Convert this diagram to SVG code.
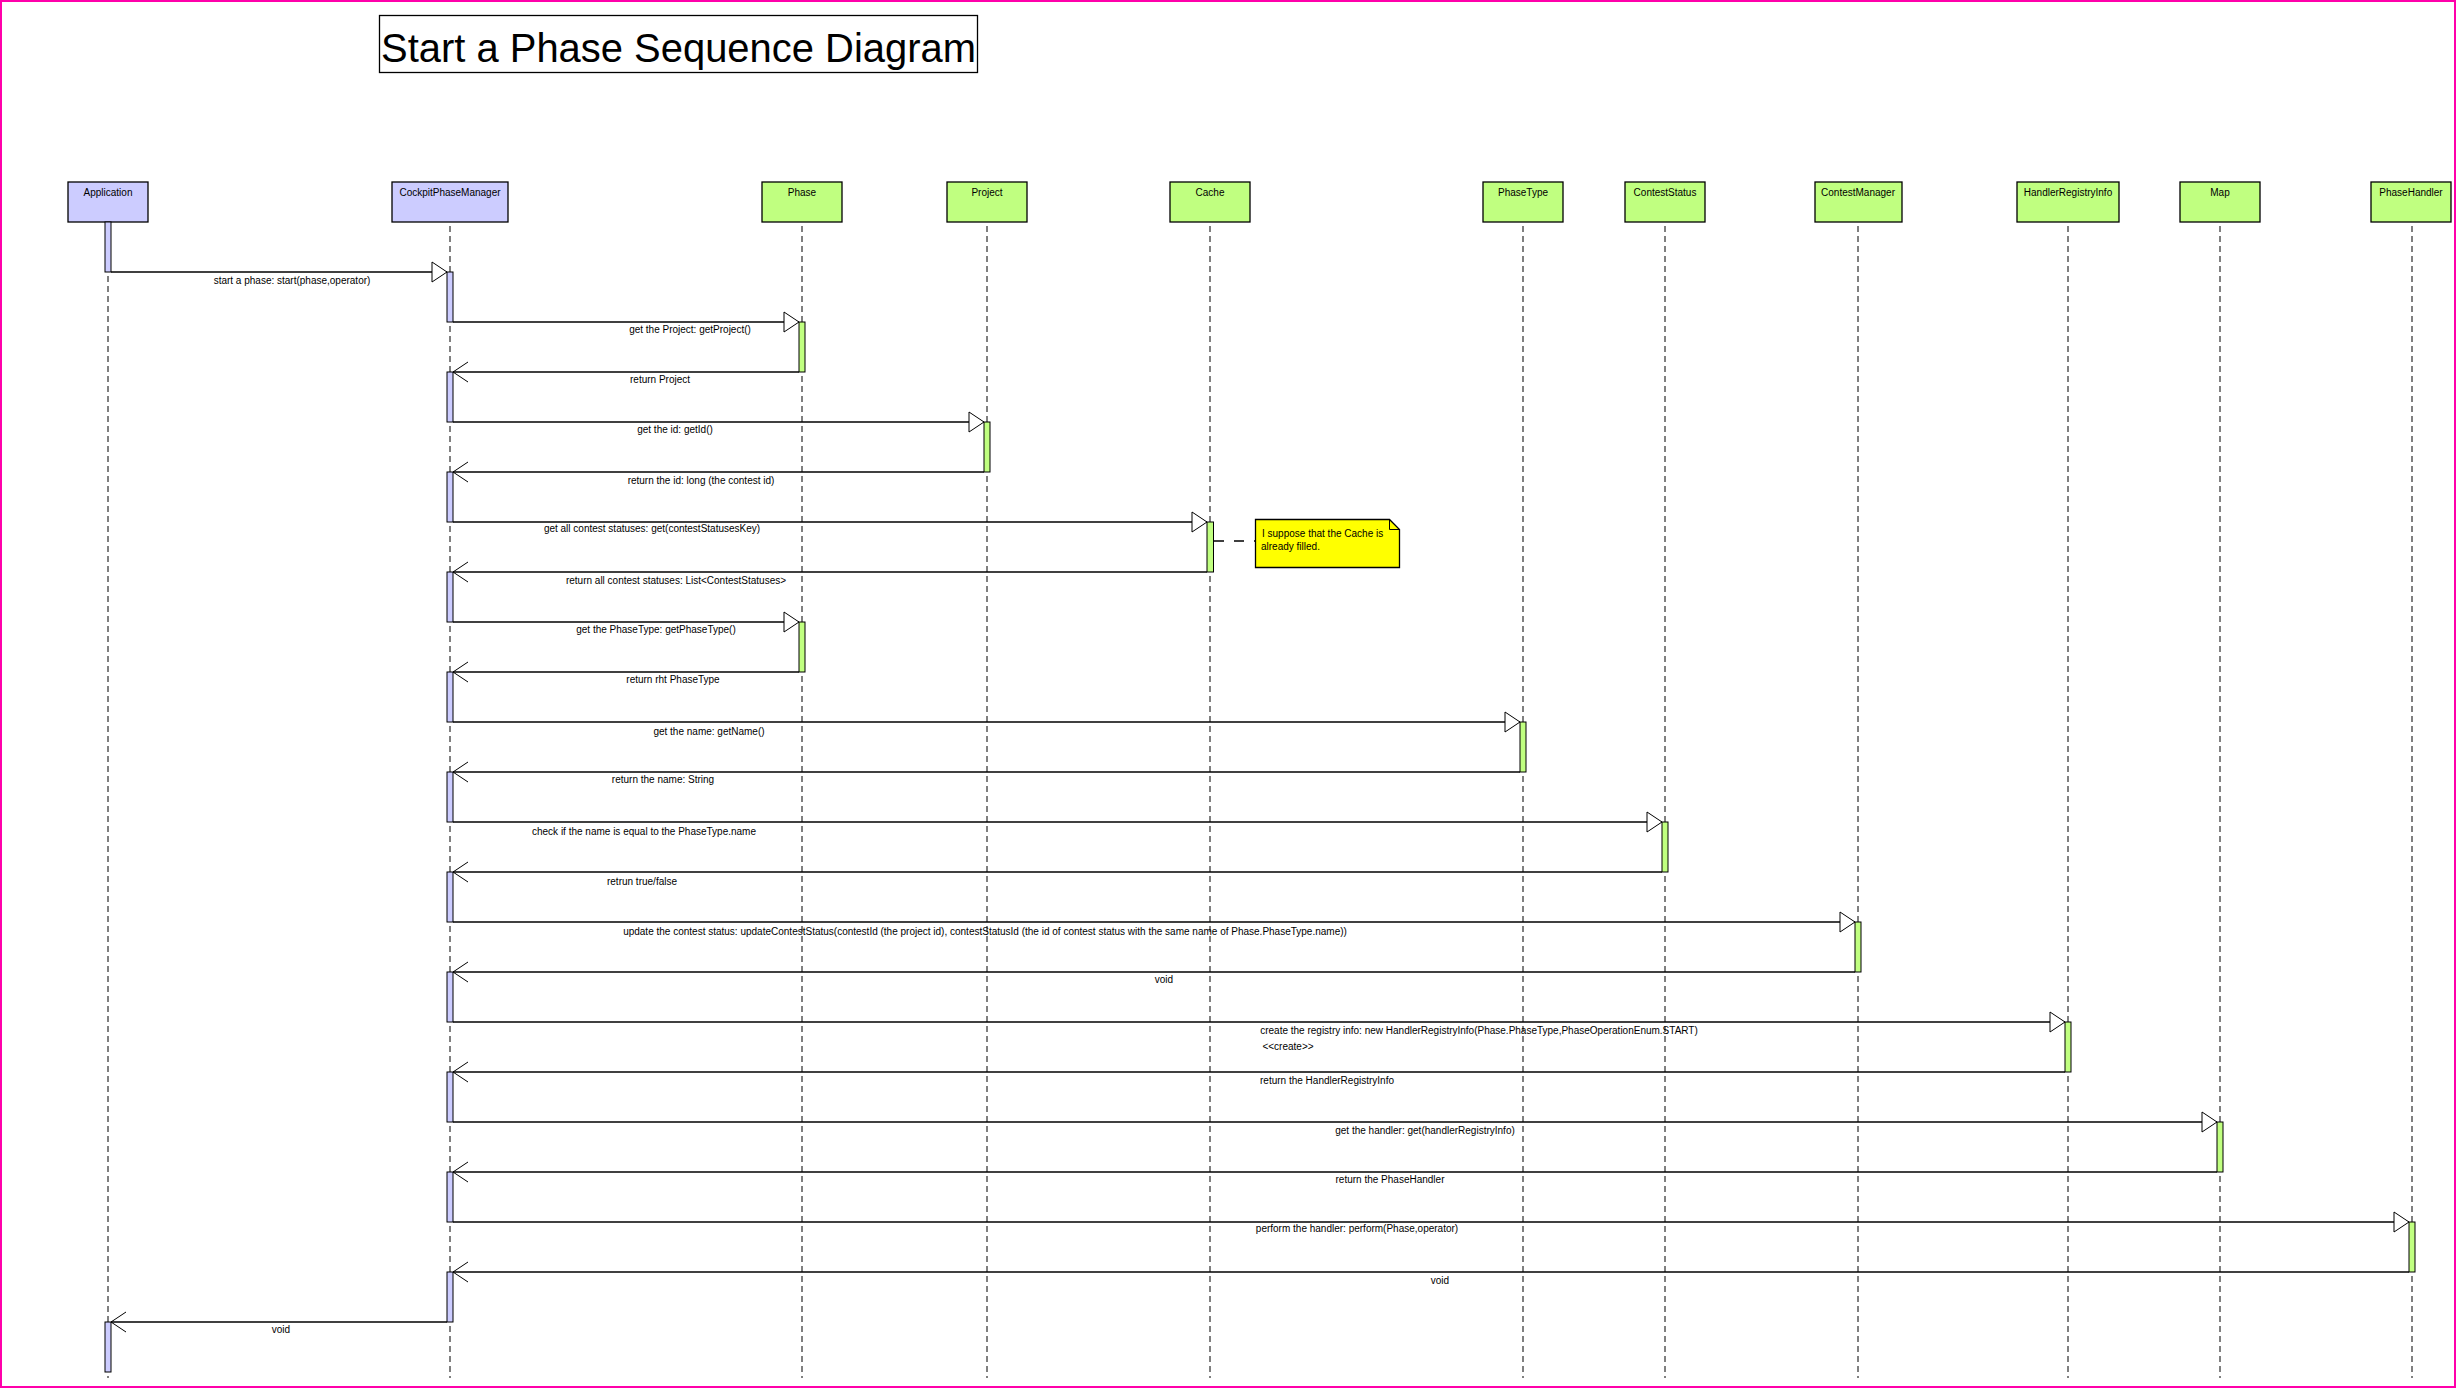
<svg xmlns="http://www.w3.org/2000/svg" width="2456" height="1388" viewBox="0 0 2456 1388">
<style>
.box{stroke:#000;stroke-width:1.3}
.act{fill:#CCCCFF}
.obj{fill:#C0FF80}
.life{stroke:#000;stroke-width:1;stroke-dasharray:6,4;fill:none}
.bara{fill:#CCCCFF;stroke:#000;stroke-width:1}
.baro{fill:#C0FF80;stroke:#000;stroke-width:1}
.call{stroke:#000;stroke-width:1.3;fill:none;marker-end:url(#tri)}
.ret{stroke:#000;stroke-width:1.3;fill:none;marker-end:url(#vee)}
text{font-family:"Liberation Sans",Arial,sans-serif;font-size:10px;fill:#000}
.c{text-anchor:middle}
</style>
<defs>
<marker id="tri" markerUnits="userSpaceOnUse" markerWidth="16" markerHeight="22" refX="15" refY="10" orient="auto" overflow="visible">
<path d="M0,0 L15,10 L0,20 Z" fill="#fff" stroke="#000" stroke-width="1"/>
</marker>
<marker id="vee" markerUnits="userSpaceOnUse" markerWidth="16" markerHeight="22" refX="15" refY="10" orient="auto" overflow="visible">
<path d="M0,0 L15,10 L0,20" fill="none" stroke="#000" stroke-width="1"/>
</marker>
</defs>
<rect x="0" y="0" width="2456" height="1388" fill="#fff"/>
<rect x="1" y="1" width="2454" height="1386" fill="none" stroke="#FF00AA" stroke-width="2"/>

<g id="title">
<rect x="379.5" y="15.5" width="598" height="57" fill="#fff" stroke="#000" stroke-width="1.3"/>
<text x="381" y="62" style="font-size:40px" textLength="595" lengthAdjust="spacingAndGlyphs">Start a Phase Sequence Diagram</text>
</g>

<g id="connectors">
<path class="call" d="M111,272 H447"/>
<text class="c" x="292" y="284">start a phase: start(phase,operator)</text>
<path class="call" d="M453,322 H799"/>
<text class="c" x="690" y="333">get the Project: getProject()</text>
<path class="ret" d="M799,372 H453"/>
<text class="c" x="660" y="383">return Project</text>
<path class="call" d="M453,422 H984"/>
<text class="c" x="675" y="433">get the id: getId()</text>
<path class="ret" d="M984,472 H453"/>
<text class="c" x="701" y="484">return the id: long (the contest id)</text>
<path class="call" d="M453,522 H1207"/>
<text class="c" x="652" y="532">get all contest statuses: get(contestStatusesKey)</text>
<path class="ret" d="M1207,572 H453"/>
<text class="c" x="676" y="584">return all contest statuses: List&lt;ContestStatuses&gt;</text>
<path class="call" d="M453,622 H799"/>
<text class="c" x="656" y="633">get the PhaseType: getPhaseType()</text>
<path class="ret" d="M799,672 H453"/>
<text class="c" x="673" y="683">return rht PhaseType</text>
<path class="call" d="M453,722 H1520"/>
<text class="c" x="709" y="735">get the name: getName()</text>
<path class="ret" d="M1520,772 H453"/>
<text class="c" x="663" y="783">return the name: String</text>
<path class="call" d="M453,822 H1662"/>
<text class="c" x="644" y="835">check if the name is equal to the PhaseType.name</text>
<path class="ret" d="M1662,872 H453"/>
<text class="c" x="642" y="885">retrun true/false</text>
<path class="call" d="M453,922 H1855"/>
<text class="c" x="985" y="935">update the contest status: updateContestStatus(contestId (the project id), contestStatusId (the id of contest status with the same name of Phase.PhaseType.name))</text>
<path class="ret" d="M1855,972 H453"/>
<text class="c" x="1164" y="983">void</text>
<path class="call" d="M453,1022 H2065"/>
<text class="c" x="1479" y="1034">create the registry info: new HandlerRegistryInfo(Phase.PhaseType,PhaseOperationEnum.START)</text>
<text class="c" x="1288" y="1050">&lt;&lt;create&gt;&gt;</text>
<path class="ret" d="M2065,1072 H453"/>
<text class="c" x="1327" y="1084">return the HandlerRegistryInfo</text>
<path class="call" d="M453,1122 H2217"/>
<text class="c" x="1425" y="1134">get the handler: get(handlerRegistryInfo)</text>
<path class="ret" d="M2217,1172 H453"/>
<text class="c" x="1390" y="1183">return the PhaseHandler</text>
<path class="call" d="M453,1222 H2409"/>
<text class="c" x="1357" y="1232">perform the handler: perform(Phase,operator)</text>
<path class="ret" d="M2409,1272 H453"/>
<text class="c" x="1440" y="1284">void</text>
<path class="ret" d="M447,1322 H111"/>
<text class="c" x="281" y="1333">void</text>
<path d="M1214,541 H1255" stroke="#000" stroke-width="1.3" stroke-dasharray="10,10" fill="none"/>
</g>

<g id="Application">
<rect class="box act" x="68" y="182" width="80" height="40"/>
<text class="c" x="108" y="196">Application</text>
<line class="life" x1="108" y1="226" x2="108" y2="1378"/>
<rect class="bara" x="105" y="222" width="6" height="50"/>
<rect class="bara" x="105" y="1322" width="6" height="50"/>
</g>

<g id="CockpitPhaseManager">
<rect class="box act" x="392" y="182" width="116" height="40"/>
<text class="c" x="450" y="196">CockpitPhaseManager</text>
<line class="life" x1="450" y1="226" x2="450" y2="1378"/>
<rect class="bara" x="447" y="272" width="6" height="50"/>
<rect class="bara" x="447" y="372" width="6" height="50"/>
<rect class="bara" x="447" y="472" width="6" height="50"/>
<rect class="bara" x="447" y="572" width="6" height="50"/>
<rect class="bara" x="447" y="672" width="6" height="50"/>
<rect class="bara" x="447" y="772" width="6" height="50"/>
<rect class="bara" x="447" y="872" width="6" height="50"/>
<rect class="bara" x="447" y="972" width="6" height="50"/>
<rect class="bara" x="447" y="1072" width="6" height="50"/>
<rect class="bara" x="447" y="1172" width="6" height="50"/>
<rect class="bara" x="447" y="1272" width="6" height="50"/>
</g>

<g id="Phase">
<rect class="box obj" x="762" y="182" width="80" height="40"/>
<text class="c" x="802" y="196">Phase</text>
<line class="life" x1="802" y1="226" x2="802" y2="1378"/>
<rect class="baro" x="799" y="322" width="6" height="50"/>
<rect class="baro" x="799" y="622" width="6" height="50"/>
</g>

<g id="Project">
<rect class="box obj" x="947" y="182" width="80" height="40"/>
<text class="c" x="987" y="196">Project</text>
<line class="life" x1="987" y1="226" x2="987" y2="1378"/>
<rect class="baro" x="984" y="422" width="6" height="50"/>
</g>

<g id="Cache">
<rect class="box obj" x="1170" y="182" width="80" height="40"/>
<text class="c" x="1210" y="196">Cache</text>
<line class="life" x1="1210" y1="226" x2="1210" y2="1378"/>
<rect class="baro" x="1207" y="522" width="6.5" height="50"/>
</g>

<g id="note">
<path d="M1255.5,519.5 H1389.5 L1399.5,529.5 V567.5 H1255.5 Z" fill="#FFFF00" stroke="#000" stroke-width="1.3"/>
<path d="M1389.5,519.5 V529.5 H1399.5" fill="none" stroke="#000" stroke-width="1"/>
<text x="1262" y="537">I suppose that the Cache is</text>
<text x="1261" y="550">already filled.</text>
</g>

<g id="PhaseType">
<rect class="box obj" x="1483" y="182" width="80" height="40"/>
<text class="c" x="1523" y="196">PhaseType</text>
<line class="life" x1="1523" y1="226" x2="1523" y2="1378"/>
<rect class="baro" x="1520" y="722" width="6" height="50"/>
</g>

<g id="ContestStatus">
<rect class="box obj" x="1625" y="182" width="80" height="40"/>
<text class="c" x="1665" y="196">ContestStatus</text>
<line class="life" x1="1665" y1="226" x2="1665" y2="1378"/>
<rect class="baro" x="1662" y="822" width="6" height="50"/>
</g>

<g id="ContestManager">
<rect class="box obj" x="1815" y="182" width="87" height="40"/>
<text class="c" x="1858" y="196">ContestManager</text>
<line class="life" x1="1858" y1="226" x2="1858" y2="1378"/>
<rect class="baro" x="1855" y="922" width="6" height="50"/>
</g>

<g id="HandlerRegistryInfo">
<rect class="box obj" x="2017" y="182" width="102" height="40"/>
<text class="c" x="2068" y="196">HandlerRegistryInfo</text>
<line class="life" x1="2068" y1="226" x2="2068" y2="1378"/>
<rect class="baro" x="2065" y="1022" width="6" height="50"/>
</g>

<g id="Map">
<rect class="box obj" x="2180" y="182" width="80" height="40"/>
<text class="c" x="2220" y="196">Map</text>
<line class="life" x1="2220" y1="226" x2="2220" y2="1378"/>
<rect class="baro" x="2217" y="1122" width="6" height="50"/>
</g>

<g id="PhaseHandler">
<rect class="box obj" x="2371" y="182" width="80" height="40"/>
<text class="c" x="2411" y="196">PhaseHandler</text>
<line class="life" x1="2412" y1="226" x2="2412" y2="1378"/>
<rect class="baro" x="2409" y="1222" width="6" height="50"/>
</g>
</svg>
